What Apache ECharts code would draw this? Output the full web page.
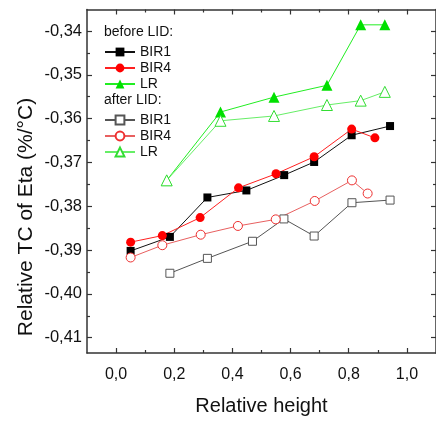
<!DOCTYPE html>
<html>
<head>
<meta charset="utf-8">
<script src="https://cdn.jsdelivr.net/npm/echarts@6/dist/echarts.min.js"></script>
<style>
  html, body { margin: 0; padding: 0; background: #fff; }
  #chart { width: 436px; height: 421px; }
</style>
</head>
<body>
<div id="chart"></div>
<script>
// Relative height of each sample position and its TC of Eta, before and after LID
const heightBir1Before = [0.050, 0.185, 0.314, 0.448, 0.578, 0.681, 0.810, 0.942];
const tcBir1Before     = [-0.3902, -0.3870, -0.3780, -0.3764, -0.3729, -0.3699, -0.3638, -0.3617];
const heightBir4Before = [0.050, 0.159, 0.289, 0.421, 0.550, 0.681, 0.810, 0.890];
const tcBir4Before     = [-0.3882, -0.3867, -0.3826, -0.3758, -0.3726, -0.3687, -0.3624, -0.3644];
const heightLrBefore   = [0.174, 0.359, 0.543, 0.725, 0.841, 0.924];
const tcLrBefore       = [-0.3741, -0.3585, -0.3551, -0.3524, -0.3386, -0.3386];

const heightBir1After  = [0.185, 0.314, 0.469, 0.577, 0.681, 0.811, 0.942];
const tcBir1After      = [-0.3953, -0.3919, -0.3880, -0.3829, -0.3868, -0.3792, -0.3786];
const heightBir4After  = [0.050, 0.159, 0.291, 0.419, 0.549, 0.683, 0.811, 0.865];
const tcBir4After      = [-0.3917, -0.3889, -0.3865, -0.3845, -0.3830, -0.3788, -0.3741, -0.3771];
const heightLrAfter    = [0.174, 0.359, 0.543, 0.725, 0.841, 0.924];
const tcLrAfter        = [-0.3741, -0.3605, -0.3594, -0.3569, -0.3559, -0.3539];

// Tick positions
const xMajorTicks = [0, 0.2, 0.4, 0.6, 0.8, 1.0];
const xMinorTicks = [0.1, 0.3, 0.5, 0.7, 0.9];
const yMajorTicks = [-0.41, -0.40, -0.39, -0.38, -0.37, -0.36, -0.35, -0.34];
const yMinorTicks = [-0.405, -0.395, -0.385, -0.375, -0.365, -0.355, -0.345];

const X_MIN = -0.1, X_MAX = 1.1;
const Y_MIN = -0.4135, Y_MAX = -0.3351;

const FONT = '"Liberation Sans", Arial, sans-serif';
const AXIS_COLOR = '#333';

function zip(xs, ys) { return xs.map((x, i) => [x, ys[i]]); }
function comma(v, d) { return v.toFixed(d).replace('.', ','); }

function xAxisDef(position, ticks, len, withLine, withLabels) {
  return {
    type: 'value', position: position, min: X_MIN, max: X_MAX,
    axisLine: { show: withLine, onZero: false, lineStyle: { color: AXIS_COLOR, width: 1.5 } },
    axisTick: { show: true, inside: true, length: len, customValues: ticks,
                lineStyle: { color: AXIS_COLOR, width: 1.2 } },
    axisLabel: withLabels ? {
      show: true, customValues: ticks, margin: 14, fontSize: 16, color: '#111',
      fontFamily: FONT, formatter: v => comma(v, 1)
    } : { show: false },
    splitLine: { show: false }
  };
}
function yAxisDef(position, ticks, len, withLine, withLabels) {
  return {
    type: 'value', position: position, min: Y_MIN, max: Y_MAX,
    axisLine: { show: withLine, onZero: false, lineStyle: { color: AXIS_COLOR, width: 1.5 } },
    axisTick: { show: true, inside: true, length: len, customValues: ticks,
                lineStyle: { color: AXIS_COLOR, width: 1.2 } },
    axisLabel: withLabels ? {
      show: true, customValues: ticks, margin: 5, fontSize: 16.5, color: '#111',
      fontFamily: FONT, formatter: v => comma(v, 2)
    } : { show: false },
    splitLine: { show: false }
  };
}

const xMain = xAxisDef('bottom', xMajorTicks, 5, true, true);
xMain.name = 'Relative height';
xMain.nameLocation = 'middle';
xMain.nameGap = 43;
xMain.nameTextStyle = { fontSize: 20, color: '#111', fontFamily: FONT };

const chart = echarts.init(document.getElementById('chart'), null, { renderer: 'canvas' });

function lineSeries(name, xs, ys, lineColor, symbol, size, filled, symColor) {
  return {
    name: name, type: 'line', xAxisIndex: 0, yAxisIndex: 0,
    data: zip(xs, ys),
    symbol: symbol, symbolSize: size, showSymbol: true,
    lineStyle: { color: lineColor, width: 1 },
    itemStyle: filled
      ? { color: symColor, borderColor: symColor, borderWidth: 0 }
      : { color: '#fff', borderColor: symColor, borderWidth: 1 },
    emphasis: { disabled: true },
    animation: false
  };
}

const legendCommon = {
  orient: 'vertical', left: 99, itemWidth: 30, itemHeight: 11, itemGap: 2,
  textStyle: { fontSize: 14, color: '#111', fontFamily: FONT },
  formatter: n => n.split(' ')[1],
  selectedMode: false
};

chart.setOption({
  backgroundColor: '#fff',
  animation: false,
  grid: { left: 87, top: 9.5, width: 356, height: 347 },
  xAxis: [
    xMain,
    xAxisDef('bottom', xMinorTicks, 3, false, false),
    xAxisDef('top', xMajorTicks, 5, true, false),
    xAxisDef('top', xMinorTicks, 3, false, false)
  ],
  yAxis: [
    yAxisDef('left', yMajorTicks, 5, true, true),
    yAxisDef('left', yMinorTicks, 3, false, false),
    yAxisDef('right', yMajorTicks, 5, true, false),
    yAxisDef('right', yMinorTicks, 3, false, false)
  ],
  legend: [
    Object.assign({ top: 40, data: ['before BIR1', 'before BIR4', 'before LR'] }, legendCommon),
    Object.assign({ top: 108, data: ['after BIR1', 'after BIR4', 'after LR'] }, legendCommon)
  ],
  graphic: [
    { type: 'text', left: 104, top: 25,
      style: { text: 'before LID:', fontSize: 14, fill: '#111', fontFamily: FONT } },
    { type: 'text', left: 104, top: 93,
      style: { text: 'after LID:', fontSize: 14, fill: '#111', fontFamily: FONT } },
    { type: 'text', x: 26, y: 217, rotation: Math.PI / 2,
      style: { text: 'Relative TC of Eta (%/°C)', fontSize: 21, fill: '#111', fontFamily: FONT,
               align: 'center', verticalAlign: 'middle' } }
  ],
  series: [
    lineSeries('before BIR1', heightBir1Before, tcBir1Before, '#111', 'rect', 8, true, '#000'),
    lineSeries('before BIR4', heightBir4Before, tcBir4Before, '#ff2020', 'circle', 9, true, '#ff0000'),
    lineSeries('before LR', heightLrBefore, tcLrBefore, '#22ee22', 'triangle', 11, true, '#00e000'),
    lineSeries('after BIR1', heightBir1After, tcBir1After, '#555', 'rect', 8, false, '#555'),
    lineSeries('after BIR4', heightBir4After, tcBir4After, '#e86060', 'circle', 9, false, '#ee3030'),
    lineSeries('after LR', heightLrAfter, tcLrAfter, '#66ee66', 'triangle', 11, false, '#33dd33')
  ]
});
</script>
</body>
</html>
